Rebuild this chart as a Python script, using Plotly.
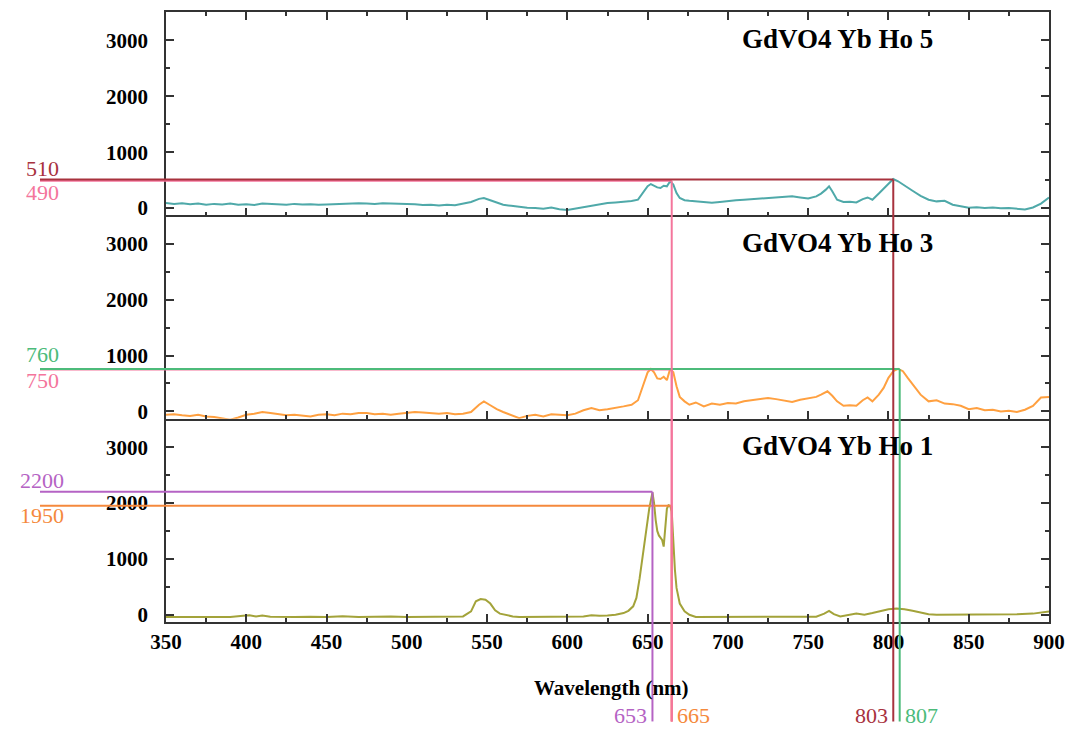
import plotly.graph_objects as go

# ---------------- data ----------------
wl_ho5 = [350, 355, 360, 365, 370, 375, 380, 385, 390, 395, 400, 405, 410, 415, 420, 425, 430, 435, 440, 445,
          450, 455, 460, 465, 470, 475, 480, 485, 490, 495, 500, 505, 510, 515, 520, 525, 530, 535, 540, 545,
          548, 552, 556, 560, 565, 570, 575, 580, 585, 590, 595, 600, 605, 610, 615, 620, 625, 630, 635, 640,
          644, 647, 650, 652, 654, 656, 658, 660, 662, 664, 666, 668, 670, 673, 676, 680, 685, 690, 695, 700,
          705, 710, 715, 720, 725, 730, 735, 740, 745, 750, 755, 758, 761, 763, 765, 768, 772, 776, 780, 784,
          787, 790, 794, 797, 800, 803, 806, 810, 815, 820, 825, 830, 835, 840, 845, 850, 855, 860, 865, 870,
          875, 880, 885, 890, 895, 900]
int_ho5 = [90, 75, 85, 70, 80, 60, 75, 65, 80, 60, 70, 55, 80, 70, 65, 60, 75, 65, 70, 60,
           65, 70, 80, 75, 85, 80, 75, 85, 80, 75, 80, 70, 55, 60, 45, 60, 50, 75, 110, 165,
           180, 140, 100, 60, 40, 20, 5, 0, -10, 10, -20, -35, -10, 20, 40, 70, 90, 100, 110, 125,
           150, 260, 390, 430, 400, 370, 360, 400, 390, 480, 420, 270, 180, 140, 130, 120, 100, 95, 110, 130,
           140, 150, 160, 165, 180, 190, 200, 210, 190, 170, 210, 260, 330, 390, 300, 150, 110, 115, 100, 160,
           190, 150, 260, 350, 430, 520, 480, 400, 310, 220, 150, 120, 130, 60, 30, 5, 15, 0, 10, -5,
           0, -15, -25, 10, 80, 190]

wl_ho3 = [350, 355, 360, 365, 370, 375, 380, 385, 390, 395, 400, 405, 410, 415, 420, 425, 430, 435, 440, 445,
          450, 455, 460, 465, 470, 475, 480, 485, 490, 495, 500, 505, 510, 515, 520, 525, 530, 535, 540, 545,
          548, 552, 556, 560, 565, 570, 575, 580, 585, 590, 595, 600, 605, 610, 615, 620, 625, 630, 635, 640,
          644, 647, 650, 652, 654, 656, 658, 660, 662, 664, 666, 668, 670, 673, 676, 680, 685, 690, 695, 700,
          705, 710, 715, 720, 725, 730, 735, 740, 745, 750, 755, 758, 762, 765, 768, 772, 776, 780, 784, 787,
          790, 794, 797, 800, 803, 806, 809, 812, 815, 820, 825, 830, 835, 840, 845, 850, 855, 860, 865, 870,
          875, 880, 885, 890, 895, 900]
int_ho3 = [-60, -50, -70, -80, -60, -90, -100, -120, -150, -110, -60, -40, -10, -30, -50, -70, -60, -80, -90, -60,
           -50, -70, -40, -50, -30, -30, -50, -40, -60, -40, -20, -10, -20, -30, -40, -30, -50, -40, -10, 120,
           180, 110, 40, -10, -70, -120, -80, -60, -90, -50, -60, -70, -40, 20, 60, 20, 40, 60, 90, 120,
           200, 450, 700, 760, 700, 590, 580, 620, 560, 760, 700, 450, 260, 180, 120, 160, 90, 140, 120, 150,
           140, 180, 200, 210, 240, 220, 200, 170, 210, 240, 260, 300, 360, 280, 180, 100, 110, 100, 200, 250,
           180, 300, 420, 600, 720, 760, 720, 600, 480, 300, 180, 200, 140, 130, 100, 40, 60, 20, 30, 0,
           10, -10, 30, 100, 250, 260]

wl_ho1 = [350, 360, 370, 380, 390, 398, 402, 406, 410, 415, 420, 430, 440, 450, 460, 470, 480, 490, 500, 510,
          520, 530, 535, 540, 543, 546, 549, 552, 555, 558, 562, 566, 570, 580, 590, 600, 610, 615, 620, 625,
          630, 635, 638, 641, 643, 645, 647, 649, 651, 653, 654, 655, 656, 657, 658, 659, 660, 661, 662, 663,
          664, 665, 666, 667, 668, 670, 673, 676, 680, 690, 700, 720, 740, 755, 760, 763, 766, 770, 780, 785,
          790, 795, 800, 805, 810, 815, 820, 825, 830, 840, 850, 860, 870, 880, 890, 895, 900]
int_ho1 = [-40, -40, -40, -35, -40, -20, -10, -30, -15, -35, -40, -40, -35, -40, -25, -40, -35, -30, -40, -40,
           -40, -40, -30, 60, 240, 280, 270, 200, 80, 20, -10, -30, -40, -40, -40, -35, -30, -10, -20, -15,
           0, 30, 70, 150, 300, 650, 1050, 1450, 1900, 2190, 2000, 1700, 1500, 1420, 1380, 1340, 1220, 1500, 1900, 1960,
           1950, 1850, 1300, 800, 480, 200, 60, 0, -40, -40, -40, -40, -40, -35, 20, 70, 10, -30, 20, 0,
           30, 60, 100, 110, 100, 70, 40, 10, 0, 0, 10, 0, 10, 10, 20, 40, 60]

panel_labels = ["GdVO4 Yb Ho 5", "GdVO4 Yb Ho 3", "GdVO4 Yb Ho 1"]
x_ticks = [350, 400, 450, 500, 550, 600, 650, 700, 750, 800, 850, 900]
y_ticks = [0, 1000, 2000, 3000]

# marked levels: (panel index 0=top, value, wavelength, label, colour)
level_marks = [
    (0, 510, 803, "510", "#a8323e"),
    (0, 490, 665, "490", "#f4759c"),
    (1, 760, 807, "760", "#4cbb7a"),
    (1, 750, 665, "750", "#f4759c"),
    (2, 2200, 653, "2200", "#b563c4"),
    (2, 1950, 665, "1950", "#f5893c"),
]
wl_marks = [(653, "653", "#b563c4", "right"), (665, "665", "#f5893c", "left"),
            (803, "803", "#a8323e", "right"), (807, "807", "#4cbb7a", "left")]

X_RANGE = [350, 900]
Y_RANGE = [-130, 3510]

# ---------------- figure ----------------
fig = go.Figure()
series = [(wl_ho5, int_ho5, "#4fa9a9", "x3", "y3"),
          (wl_ho3, int_ho3, "#ffa040", "x2", "y2"),
          (wl_ho1, int_ho1, "#a3a33a", "x", "y")]
for wl, iv, col, xa, ya in series:
    fig.add_trace(go.Scatter(x=wl, y=iv, mode="lines", line=dict(color=col, width=2),
                             xaxis=xa, yaxis=ya, showlegend=False))

domains = {0: [2/3, 1.0], 1: [1/3, 2/3], 2: [0.0, 1/3]}
yrefs = {0: "y3", 1: "y2", 2: "y"}

axis_common = dict(showline=True, linecolor="#333333", linewidth=1.5,
                   ticks="inside", tickcolor="#333333", ticklen=8, tickwidth=1.5,
                   showgrid=False, zeroline=False)
tick_font = dict(family="Liberation Serif", size=21, color="black", weight="bold")

minor = dict(ticks="inside", ticklen=4, tickcolor="#333333", tickwidth=1.5, dtick=25, showgrid=False)
fig.update_layout(
    xaxis=dict(**axis_common, mirror=False, range=X_RANGE, anchor="y", domain=[0, 1], tickvals=x_ticks,
               tickfont=tick_font, minor=minor),
    xaxis2=dict(**axis_common, mirror=False, range=X_RANGE, anchor="y2", domain=[0, 1], tickvals=x_ticks,
                showticklabels=False, minor=minor),
    xaxis3=dict(**axis_common, mirror="ticks", range=X_RANGE, anchor="y3", domain=[0, 1],
                tickvals=x_ticks, showticklabels=False, minor=minor),
)
yminor = dict(ticks="inside", ticklen=4, tickcolor="#333333", tickwidth=1.5, dtick=500, showgrid=False)
for p, name in [(2, "yaxis"), (1, "yaxis2"), (0, "yaxis3")]:
    fig.layout[name] = dict(**axis_common, mirror="ticks", range=Y_RANGE, domain=domains[p],
                            anchor={"yaxis": "x", "yaxis2": "x2", "yaxis3": "x3"}[name],
                            tickvals=y_ticks, tickfont=tick_font, minor=yminor, ticklabelstandoff=12)

def paper_y(panel, v):
    d0, d1 = domains[panel]
    return d0 + (v - Y_RANGE[0]) / (Y_RANGE[1] - Y_RANGE[0]) * (d1 - d0)

def paper_x(w):
    return (w - X_RANGE[0]) / (X_RANGE[1] - X_RANGE[0])

shapes = []
annotations = []
LEFT_X = -0.1427
BOTTOM_Y = -0.163
for panel, v, w, lab, col in reversed(level_marks):
    shapes.append(dict(type="line", xref="paper", yref=yrefs[panel], x0=LEFT_X, x1=paper_x(w),
                       y0=v, y1=v, line=dict(color=col, width=2)))
    shapes.append(dict(type="line", xref="x", yref="paper", x0=w, x1=w,
                       y0=paper_y(panel, v), y1=BOTTOM_Y, line=dict(color=col, width=2)))
# label offsets above / below the level lines
label_shift = {"510": 11, "490": -12, "760": 14, "750": -11, "2200": 11, "1950": -10}
for panel, v, w, lab, col in level_marks:
    annotations.append(dict(text=lab, xref="paper", yref=yrefs[panel], x=-0.1404, y=v,
                            yshift=label_shift[lab], showarrow=False, xanchor="center", yanchor="middle",
                            font=dict(family="Liberation Serif", size=22, color=col)))
for w, lab, col, side in wl_marks:
    annotations.append(dict(text=lab, xref="x", yref="paper", x=w, y=-0.1536, showarrow=False,
                            xanchor=side, yanchor="middle", xshift=(-3 if side == "right" else 3),
                            font=dict(family="Liberation Serif", size=22, color=col)))
for i, lab in enumerate(panel_labels):
    annotations.append(dict(text="<b>" + lab + "</b>", xref="paper", yref="paper", x=0.76,
                            y=domains[i][1] - 0.045, showarrow=False, xanchor="center", yanchor="middle",
                            font=dict(family="Liberation Serif", size=27, color="black")))
annotations.append(dict(text="<b>Wavelength (nm)</b>", xref="paper", yref="paper", x=0.505, y=-0.108,
                        showarrow=False, xanchor="center", yanchor="middle",
                        font=dict(family="Liberation Serif", size=21, color="black")))

fig.update_layout(width=1077, height=729, margin=dict(l=166, r=28, t=10, b=107),
                  plot_bgcolor="white", paper_bgcolor="white", shapes=shapes, annotations=annotations)

fig.write_html("out.html")
